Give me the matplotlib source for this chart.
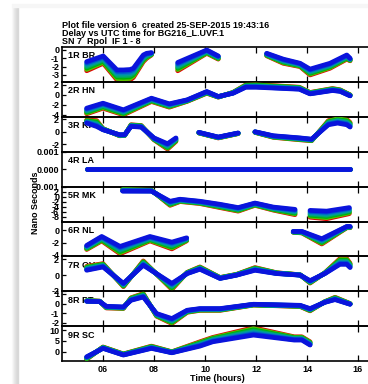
import numpy as np
import matplotlib
matplotlib.use("Agg")
import matplotlib.pyplot as plt
from matplotlib.patches import Rectangle

plt.rcParams['font.family'] = ['Liberation Sans', 'DejaVu Sans']
plt.rcParams['font.weight'] = 'bold'
plt.rcParams['axes.unicode_minus'] = False

nan = np.nan

title_lines = ["Plot file version 6  created 25-SEP-2015 19:43:16",
               "Delay vs UTC time for BG216_L.UVF.1",
               "SN 7  Rpol  IF 1 - 8"]
x_label = "Time (hours)"
y_label = "Nano Seconds"
x_ticks = [6, 8, 10, 12, 14, 16]
x_tick_labels = ["06", "08", "10", "12", "14", "16"]

antennas = ['1R BR', '2R HN', '3R KP', '4R LA', '5R MK', '6R NL', '7R OV', '8R PT', '9R SC']

# per antenna: times (hours), IF8 (blue) delay, IF1 (red) delay; nan = gap
t_br = [5.36, 6.01, 6.55, 6.8, 7.06, 7.19, 7.58, 7.71, 7.9, 8.4, 8.93, 10.07, 10.52, 11.5,
        12.42, 13.07, 13.73, 14.12, 14.9, 15.56, 15.69]
b_br = [-1.4, -0.72, -2.4, -2.4, -2.35, -2.2, -0.6, -0.4, -0.32, nan, -1.5, 0.0, -0.72, nan,
        -0.4, -1.1, -1.6, -2.3, -1.6, -0.6, -1.0]
r_br = [-2.5, -1.6, -3.6, -3.65, -3.6, -3.3, -1.4, -1.0, -0.6, nan, -2.5, -0.4, -1.1, nan,
        -0.7, -1.6, -2.0, -3.0, -2.2, -1.1, -1.3]

t_hn = [5.36, 6.0, 6.8, 7.9, 8.6, 9.3, 10.07, 10.52, 11.1, 11.6, 12.0, 13.7, 14.12, 15.0, 15.3, 15.69]
b_hn = [-2.67, -1.67, -3.0, -0.67, -1.8, -1.0, 0.67, -0.33, 0.33, 1.53, 1.53, 1.13, 0.2, 0.87, 0.7, -0.2]
r_hn = [-3.8, -2.67, -4.0, -1.33, -2.47, -1.3, 0.33, -0.45, 0.5, 2.0, 2.07, 1.53, 0.47, 1.27, 1.0, 0.0]

t_kp = [5.36, 5.75, 6.0, 6.65, 6.85, 7.1, 7.5, 8.0, 8.53, 8.86, 9.3, 9.76, 10.52, 11.3, 11.6,
        11.96, 12.68, 13.73, 14.18, 14.84, 15.2, 15.56, 15.69]
b_kp = [1.4, 0.85, 0.32, -0.48, -0.48, 0.86, 0.75, -1.0, -1.94, -1.0, nan, -0.1, -0.86, -0.2, nan,
        0.0, -0.65, -1.0, -1.2, 1.13, 1.4, 1.13, 0.76]
r_kp = [1.9, 1.8, 0.5, -0.65, -0.6, 1.13, 1.0, -1.3, -2.8, -1.56, nan, -0.2, -1.0, -0.3, nan,
        -0.1, -0.9, -1.3, -1.45, 1.8, 2.2, 2.0, 1.5]

t_la = [5.36, 15.69]
b_la = [0.0, 0.0]
r_la = [0.0, 0.0]

t_mk = [6.77, 7.9, 8.63, 9.02, 9.8, 10.59, 11.3, 11.96, 12.68, 13.53, 13.8,
        14.12, 14.77, 15.66]
b_mk = [2.2, 2.2, -1.8, -1.0, -1.8, -3.0, -4.3, -2.5, -4.1, -5.0, nan, -5.4, -5.7, -4.3]
r_mk = [2.9, 2.6, -3.4, -1.9, -2.7, -4.3, -5.7, -3.4, -5.3, -7.1, nan, -8.1, -8.7, -6.7]

t_nl = [5.36, 5.95, 6.67, 7.84, 8.7, 9.28, 11.0, 13.46, 13.8, 14.58, 15.56, 15.69]
b_nl = [-2.44, -0.98, -2.6, -0.98, -1.9, -1.2, nan, -0.16, -0.16, -1.35, 0.65, 0.65]
r_nl = [-3.1, -1.7, -3.8, -1.7, -3.0, -1.7, nan, -0.3, -0.4, -2.2, 0.45, 0.45]

t_ov = [5.36, 6.0, 6.8, 7.58, 8.7, 9.3, 9.8, 10.59, 11.24, 11.96, 12.81, 13.73, 14.12, 14.7,
        15.29, 15.56, 15.69]
b_ov = [0.62, 1.04, -1.04, 1.25, -1.04, 0.2, 0.75, -0.42, 0.0, 0.62, 0.2, 0.0, -0.7, 0.2,
        1.37, 1.37, 0.96]
r_ov = [1.12, 1.46, -1.46, 1.8, -1.8, 0.35, 1.04, -0.3, 0.1, 0.96, 0.3, 0.05, -1.0, 0.3,
        2.08, 2.08, 1.5]

t_pt = [5.36, 5.87, 6.13, 6.8, 7.1, 7.58, 8.1, 8.7, 9.3, 9.8, 10.59, 11.9, 13.73, 14.12, 14.7,
        15.1, 15.69]
b_pt = [0.24, 0.2, -0.28, -0.35, 0.34, 0.68, -1.03, -1.55, -0.69, -0.52, -0.52, -0.07, -0.18,
        -0.52, 0.13, 0.41, -0.07]
r_pt = [0.3, 0.25, -0.45, -0.5, 0.6, 1.03, -1.3, -2.06, -0.9, -0.7, -0.7, -0.15, -0.3,
        -0.75, 0.2, 0.65, 0.0]

t_sc = [5.36, 6.0, 6.8, 7.9, 8.7, 9.8, 10.3, 11.9, 13.5, 13.8, 14.12]
b_sc = [-2.3, 1.57, -1.5, 1.57, -0.46, 2.6, 4.6, 7.7, 5.4, 5.4, 3.1]
r_sc = [-3.4, 2.2, -1.0, 2.6, 0.0, 4.6, 6.6, 11.1, 6.9, 6.9, 4.6]

times = [t_br, t_hn, t_kp, t_la, t_mk, t_nl, t_ov, t_pt, t_sc]
blues = [b_br, b_hn, b_kp, b_la, b_mk, b_nl, b_ov, b_pt, b_sc]
reds = [r_br, r_hn, r_kp, r_la, r_mk, r_nl, r_ov, r_pt, r_sc]

y_ticks = [[0, -1, -2, -3], [2, 0, -2, -4], [2, 0, -2], [0.001, 0.0, -0.001],
           [2, 0, -2, -4, -6, -8], [0, -2, -4], [2, 0, -2], [1, 0, -1, -2], [10, 5, 0]]
y_tick_labels = [["0", "-1", "-2", "-3"], ["2", "0", "-2", "-4"], ["2", "0", "-2"],
                 ["0.001", "0.000", "-0.001"], ["2", "0", "-2", "-4", "-6", "-8"],
                 ["0", "-2", "-4"], ["2", "0", "-2"], ["1", "0", "-1", "-2"], ["10", "5", "0"]]
y_lims = [(-3.84, 0.36), (-4.4, 2.6), (-3.23, 2.42), (-0.001, 0.001), (-9.8, 4.0),
          (-4.23, 1.46), (-2.05, 2.38), (-2.34, 1.27), (-4.3, 11.8)]

# IF position within the band (1 = red edge, 0 = blue)
if_frac = [1.0, 0.86, 0.71, 0.57, 0.43, 0.29, 0.14, 0.0]
if_colors = ['#e00000', '#5cc000', '#00b400', '#00ac50', '#00a48c', '#0088b4', '#0050d0', '#0a14dc']

W, H = 368, 384
fig = plt.figure(figsize=(W / 100, H / 100), dpi=100)

# page shadow
for i, c in enumerate(['#fafafa', '#f2f2f2', '#eaeaea', '#e4e4e4', '#dedede', '#d8d8d8']):
    fig.patches.append(Rectangle(((12 + i) / W, 0), 1 / W, (H - 7) / H,
                                 transform=fig.transFigure, color=c, zorder=0))
fig.patches.append(Rectangle((12 / W, (H - 7) / H), 1 - 12 / W, 3 / H,
                             transform=fig.transFigure, color='#f6f6f6', zorder=0))

left_px, px_per_h = 62, 25.5
x0 = 6 - (103 - left_px) / px_per_h
x1 = 6 + (373 - 103) / px_per_h
top_px, panel_h = 47, 34.9
fs = 6.5

for i in range(9):
    ytop = top_px + i * panel_h
    ax = fig.add_axes([left_px / W, 1 - (ytop + panel_h) / H, (373 - left_px) / W, panel_h / H])
    ax.set_xlim(x0, x1)
    ax.set_ylim(*y_lims[i])
    t = np.array(times[i], float)
    b = np.array(blues[i], float)
    r = np.array(reds[i], float)
    for k in range(8):
        v = b + (r - b) * if_frac[k]
        ax.plot(t, v, color=if_colors[k], lw=3.4, solid_capstyle='round',
                solid_joinstyle='round', zorder=2 + k)
    ax.set_xticks(x_ticks)
    ax.set_yticks(y_ticks[i])
    ax.set_yticklabels(y_tick_labels[i], fontsize=fs, fontweight='bold')
    ax.tick_params(axis='x', direction='in', length=4.5, width=0.9, top=True, bottom=True)
    ax.tick_params(axis='y', direction='in', length=3, width=0.9, pad=2, left=True, right=True)
    if i < 8:
        ax.set_xticklabels([])
    else:
        ax.set_xticklabels(x_tick_labels, fontsize=fs, fontweight='bold')
        ax.tick_params(axis='x', pad=3)
        ax.set_xlabel(x_label, fontsize=fs, fontweight='bold', labelpad=0)
    for s in ax.spines.values():
        s.set_linewidth(1.2)
    ax.annotate(antennas[i], xy=(0, 1), xycoords='axes fraction', xytext=(6, -9),
                textcoords='offset pixels', fontsize=fs, fontweight='bold', va='center',
                ha='left', zorder=1)
    ax.patch.set_alpha(0)

for j, line in enumerate(title_lines):
    fig.text(left_px / W, 1 - (25 + 8 * j) / H, line, fontsize=fs, fontweight='bold',
             va='center', ha='left')
fig.text(35 / W, 1 - 203 / H, y_label, rotation=90, fontsize=fs, fontweight='bold',
         va='center', ha='center')

fig.savefig('out.png', dpi=100)
